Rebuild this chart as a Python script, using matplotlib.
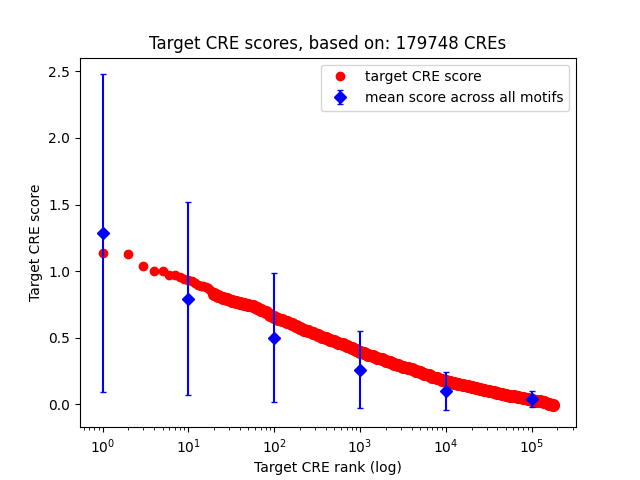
import matplotlib
matplotlib.use('Agg')
import matplotlib.pyplot as plt

# red series: CRE rank vs score
ranks = [1, 2, 3, 4, 5, 6, 7, 8, 9, 10, 11, 12, 13, 14, 15, 16, 17, 18, 19, 20,
         22, 25, 28, 32, 36, 40, 45, 50, 56, 63, 70, 80, 90,
         100, 112, 125, 140, 160, 180, 200, 225, 250, 280, 320, 360, 400, 450, 500, 560, 630, 700, 800, 900,
         1000, 1120, 1250, 1400, 1600, 1800, 2000, 2250, 2500, 2800, 3200, 3600, 4000, 4500, 5000, 5600, 6300, 7000, 8000, 9000,
         10000, 11200, 12500, 14000, 16000, 18000, 20000, 22500, 25000, 28000, 32000, 36000, 40000, 45000, 50000, 56000, 63000, 70000, 80000, 90000,
         100000, 112000, 125000, 140000, 160000, 179748]
scores = [1.14, 1.13, 1.04, 1.005, 1.0, 0.975, 0.968, 0.958, 0.945, 0.932, 0.925, 0.91, 0.895, 0.89, 0.887, 0.882, 0.875, 0.86, 0.845, 0.83,
          0.815, 0.80, 0.788, 0.778, 0.77, 0.762, 0.755, 0.745, 0.735, 0.722, 0.708, 0.69, 0.672,
          0.655, 0.642, 0.63, 0.615, 0.60, 0.585, 0.572, 0.56, 0.548, 0.535, 0.52, 0.508, 0.498, 0.485, 0.475, 0.462, 0.45, 0.438, 0.424, 0.41,
          0.396, 0.385, 0.374, 0.362, 0.35, 0.338, 0.328, 0.318, 0.306, 0.296, 0.283, 0.272, 0.262, 0.25, 0.24, 0.23, 0.219, 0.208, 0.196, 0.185,
          0.175, 0.167, 0.16, 0.153, 0.145, 0.137, 0.13, 0.122, 0.115, 0.108, 0.101, 0.095, 0.089, 0.08, 0.072, 0.066, 0.06, 0.054, 0.047, 0.041,
          0.036, 0.029, 0.022, 0.015, 0.006, -0.004]

# blue series: mean score across all motifs, with error bar ends
mean_ranks = [1, 10, 100, 1000, 10000, 100000]
mean_scores = [1.284, 0.79, 0.50, 0.255, 0.10, 0.04]
err_upper = [2.477, 1.52, 0.99, 0.55, 0.24, 0.10]
err_lower = [0.09, 0.07, 0.02, -0.03, -0.045, -0.02]

yerr = [[m - lo for m, lo in zip(mean_scores, err_lower)],
        [hi - m for m, hi in zip(mean_scores, err_upper)]]

n_sparse = 20  # first ranks show as separate dots, the rest form a dense band

fig, ax = plt.subplots(figsize=(6.4, 4.8), dpi=100)
ax.plot(ranks[:n_sparse], scores[:n_sparse], 'o', color='red', label='target CRE score')
ax.plot(ranks[n_sparse - 1:], scores[n_sparse - 1:], 'o', color='red', markersize=8.5)
ax.errorbar(mean_ranks, mean_scores, yerr=yerr, fmt='D', color='blue', capsize=2,
            label='mean score across all motifs')
ax.set_xscale('log')
ax.set_title('Target CRE scores, based on: 179748 CREs')
ax.set_xlabel('Target CRE rank (log)')
ax.set_ylabel('Target CRE score')
ax.legend(loc='upper right')
fig.savefig('out.png')
